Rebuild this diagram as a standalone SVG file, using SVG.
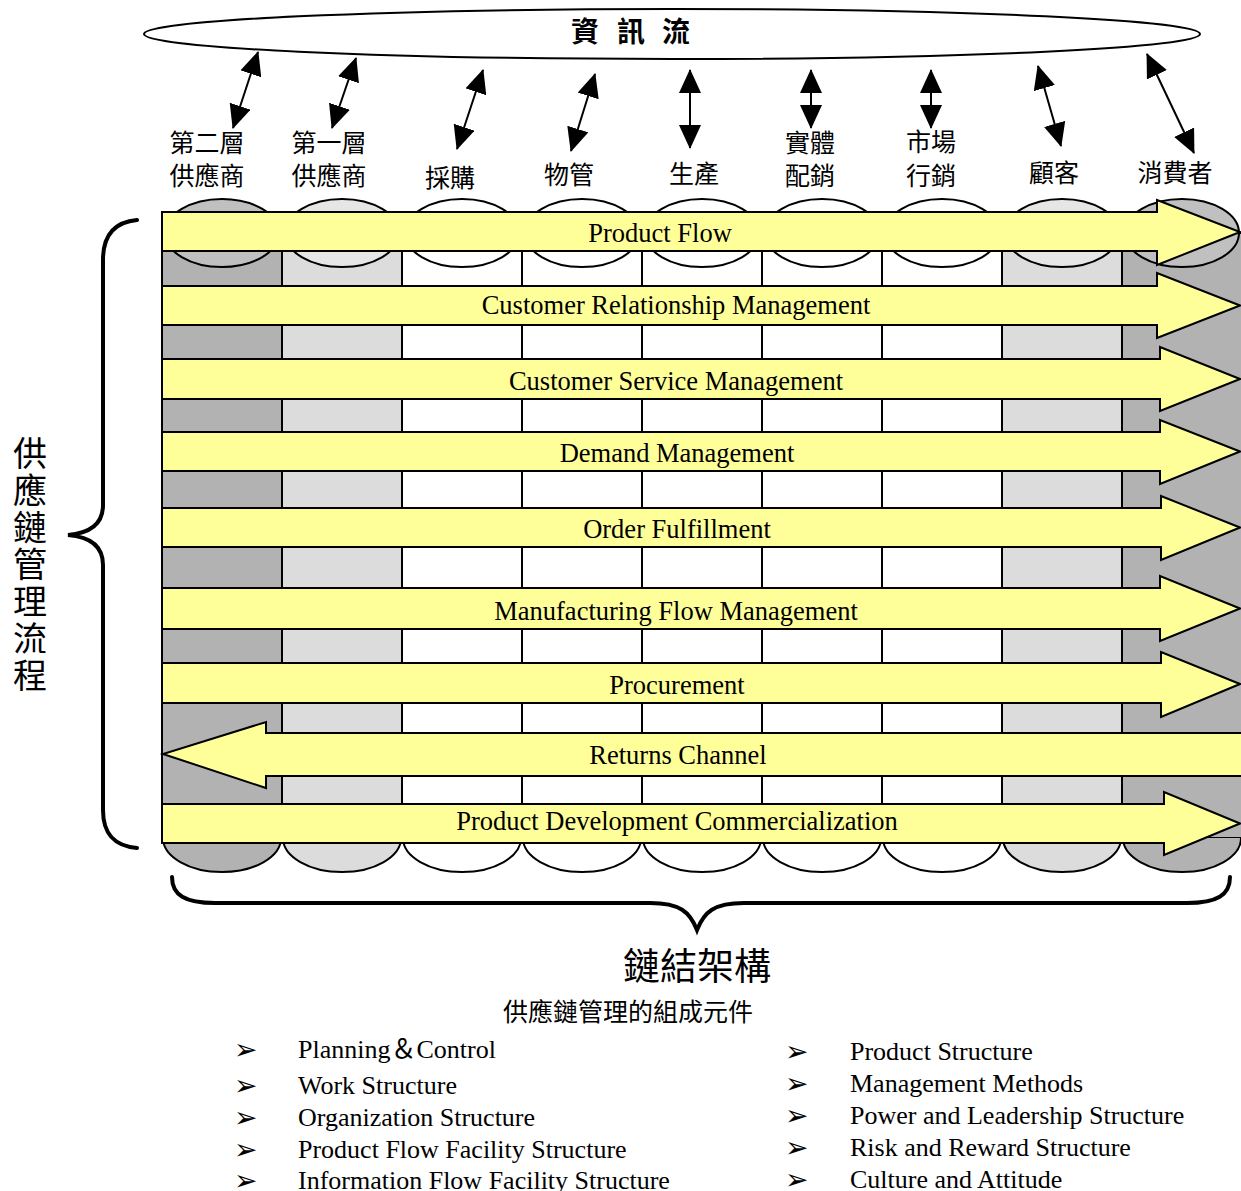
<svg xmlns="http://www.w3.org/2000/svg" width="1241" height="1191" viewBox="0 0 1241 1191">
<defs>
<style>
.cjk{font-family:"Noto Sans CJK TC","Noto Sans CJK SC",sans-serif;fill:#000}
.lbl{font-size:25px;text-anchor:middle}
.ser{font-family:"Liberation Serif","Noto Sans CJK TC",serif;fill:#000}
.band{fill:#ffff99;stroke:#000;stroke-width:2;stroke-linejoin:miter}
.bt{font-size:26.5px;text-anchor:middle}
.col{stroke:#000;stroke-width:2}
.io{stroke:#000;stroke-width:2;fill:none;marker-start:url(#ah);marker-end:url(#ah)}
.brace{fill:none;stroke:#000;stroke-width:4;stroke-linecap:round}
.li{font-size:26px}
.bul{font-family:"DejaVu Sans",sans-serif;font-size:28px;fill:#000}
.dk{fill:#b2b2b2}.dkt{fill:#c0c0c0}
.lt{fill:#dcdcdc}.ltt{fill:#e6e6e6}
.wh{fill:#ffffff}
</style>
<marker id="ah" viewBox="0 0 24 22" refX="23" refY="11" markerWidth="24" markerHeight="22" markerUnits="userSpaceOnUse" orient="auto-start-reverse">
<path d="M0,0 L24,11 L0,22 z" fill="#000"/>
</marker>
</defs>
<rect width="1241" height="1191" fill="#fff"/>

<g id="info-flow">
<ellipse cx="672" cy="34" rx="528" ry="25" fill="#fff" stroke="#000" stroke-width="2"/>
<text class="cjk" x="585 631 676" y="42" font-size="28" font-weight="bold" text-anchor="middle">資訊流</text>
</g>

<g id="entity-labels" class="cjk lbl">
<g id="tier2"><text x="207" y="152">第二層</text><text x="207" y="185">供應商</text></g>
<g id="tier1"><text x="329" y="152">第一層</text><text x="329" y="185">供應商</text></g>
<g id="purchasing"><text x="450" y="187">採購</text></g>
<g id="materials"><text x="569" y="184">物管</text></g>
<g id="production"><text x="694" y="183">生產</text></g>
<g id="distribution"><text x="810" y="152">實體</text><text x="810" y="185">配銷</text></g>
<g id="marketing"><text x="931" y="151">市場</text><text x="931" y="185">行銷</text></g>
<g id="customer"><text x="1054" y="182">顧客</text></g>
<g id="consumer"><text x="1175" y="182">消費者</text></g>
</g>

<g id="connectors">
<line class="io" x1="258" y1="52" x2="233" y2="128"/>
<line class="io" x1="356" y1="58" x2="332" y2="128"/>
<line class="io" x1="483" y1="70" x2="457" y2="149"/>
<line class="io" x1="595" y1="74" x2="571" y2="151"/>
<line class="io" x1="690" y1="70" x2="690" y2="148"/>
<line class="io" x1="811" y1="70" x2="811" y2="128"/>
<line class="io" x1="931" y1="70" x2="931" y2="128"/>
<line class="io" x1="1038" y1="66" x2="1061" y2="146"/>
<line class="io" x1="1147" y1="54" x2="1194" y2="153"/>
</g>

<g id="columns">
<g id="col1"><rect class="col dk" x="162" y="233" width="120" height="605"/><path class="col dk" d="M163,838 A59,34 0 0 0 281,838"/><ellipse class="col dkt" cx="222" cy="233" rx="57" ry="34"/></g>
<g id="col2"><rect class="col lt" x="282" y="233" width="120" height="605"/><path class="col lt" d="M283,838 A59,34 0 0 0 401,838"/><ellipse class="col ltt" cx="342" cy="233" rx="57" ry="34"/></g>
<g id="col3"><rect class="col wh" x="402" y="233" width="120" height="605"/><path class="col wh" d="M403,838 A59,34 0 0 0 521,838"/><ellipse class="col wh" cx="462" cy="233" rx="57" ry="34"/></g>
<g id="col4"><rect class="col wh" x="522" y="233" width="120" height="605"/><path class="col wh" d="M523,838 A59,34 0 0 0 641,838"/><ellipse class="col wh" cx="582" cy="233" rx="57" ry="34"/></g>
<g id="col5"><rect class="col wh" x="642" y="233" width="120" height="605"/><path class="col wh" d="M643,838 A59,34 0 0 0 761,838"/><ellipse class="col wh" cx="702" cy="233" rx="57" ry="34"/></g>
<g id="col6"><rect class="col wh" x="762" y="233" width="120" height="605"/><path class="col wh" d="M763,838 A59,34 0 0 0 881,838"/><ellipse class="col wh" cx="822" cy="233" rx="57" ry="34"/></g>
<g id="col7"><rect class="col wh" x="882" y="233" width="120" height="605"/><path class="col wh" d="M883,838 A59,34 0 0 0 1001,838"/><ellipse class="col wh" cx="942" cy="233" rx="57" ry="34"/></g>
<g id="col8"><rect class="col lt" x="1002" y="233" width="120" height="605"/><path class="col lt" d="M1003,838 A59,34 0 0 0 1121,838"/><ellipse class="col ltt" cx="1062" cy="233" rx="57" ry="34"/></g>
<g id="col9"><rect class="col dk" x="1122" y="233" width="122" height="605"/><path class="col dk" d="M1123,838 A59,34 0 0 0 1241,838"/><ellipse class="col dkt" cx="1182" cy="233" rx="57" ry="34"/></g>
</g>

<g id="processes">
<g id="p-product-flow"><path class="band" d="M162,212 H1157 V200 L1240,232 L1157,265 V251 H162 Z"/><text class="ser bt" x="660" y="242">Product Flow</text></g>
<g id="p-crm"><path class="band" d="M162,286 H1157 V273 L1240,305.5 L1157,338 V325 H162 Z"/><text class="ser bt" x="676" y="314">Customer Relationship Management</text></g>
<g id="p-csm"><path class="band" d="M162,359 H1160 V347 L1240,379 L1160,411 V399 H162 Z"/><text class="ser bt" x="676" y="390">Customer Service Management</text></g>
<g id="p-demand"><path class="band" d="M162,432 H1160 V420 L1240,451.5 L1160,484 V471 H162 Z"/><text class="ser bt" x="677" y="462">Demand Management</text></g>
<g id="p-order"><path class="band" d="M162,508 H1161 V496 L1240,527.5 L1161,560 V547 H162 Z"/><text class="ser bt" x="677" y="538">Order Fulfillment</text></g>
<g id="p-mfg"><path class="band" d="M162,588 H1160 V576 L1240,608.5 L1160,641 V629 H162 Z"/><text class="ser bt" x="676" y="620">Manufacturing Flow Management</text></g>
<g id="p-proc"><path class="band" d="M162,663 H1161 V652 L1240,684 L1161,717 V703 H162 Z"/><text class="ser bt" x="677" y="694">Procurement</text></g>
<g id="p-returns"><path class="band" d="M1245,733 H266 V722 L163,754 L266,788 V776 H1245 Z"/><text class="ser bt" x="678" y="764">Returns Channel</text></g>
<g id="p-pdc"><path class="band" d="M162,804 H1164 V792 L1240,823.5 L1164,855 V843 H162 Z"/><text class="ser bt" x="677" y="830">Product Development Commercialization</text></g>
</g>

<g id="scm-process-brace">
<path class="brace" d="M137,220 C115,222 103,235 103,260 L103,505 C103,522 92,533 68,535 C92,537 103,548 103,565 L103,810 C103,835 115,846 137,848"/>
<text class="cjk" x="30 30 30 30 30 30 30" y="466 503 540 577 614 651 688" font-size="34" text-anchor="middle">供應鏈管理流程</text>
</g>

<g id="linkage-brace">
<path class="brace" d="M172,877 C172,895 185,903 215,903 L650,903 C680,903 690,912 697,930 C704,912 714,903 744,903 L1187,903 C1217,903 1230,895 1230,877"/>
<text class="cjk" x="697" y="980" font-size="37" text-anchor="middle">鏈結架構</text>
<text class="cjk" x="628" y="1021" font-size="25" text-anchor="middle">供應鏈管理的組成元件</text>
</g>

<g id="components-left">
<text class="bul" x="234" y="1059">➢</text><text class="ser li" x="298" y="1058">Planning＆Control</text>
<text class="bul" x="234" y="1095">➢</text><text class="ser li" x="298" y="1094">Work Structure</text>
<text class="bul" x="234" y="1127">➢</text><text class="ser li" x="298" y="1126">Organization Structure</text>
<text class="bul" x="234" y="1159">➢</text><text class="ser li" x="298" y="1158">Product Flow Facility Structure</text>
<text class="bul" x="234" y="1190">➢</text><text class="ser li" x="298" y="1189">Information Flow Facility Structure</text>
</g>
<g id="components-right">
<text class="bul" x="785" y="1061">➢</text><text class="ser li" x="850" y="1060">Product Structure</text>
<text class="bul" x="785" y="1093">➢</text><text class="ser li" x="850" y="1092">Management Methods</text>
<text class="bul" x="785" y="1125">➢</text><text class="ser li" x="850" y="1124">Power and Leadership Structure</text>
<text class="bul" x="785" y="1157">➢</text><text class="ser li" x="850" y="1156">Risk and Reward Structure</text>
<text class="bul" x="785" y="1189">➢</text><text class="ser li" x="850" y="1188">Culture and Attitude</text>
</g>
</svg>
